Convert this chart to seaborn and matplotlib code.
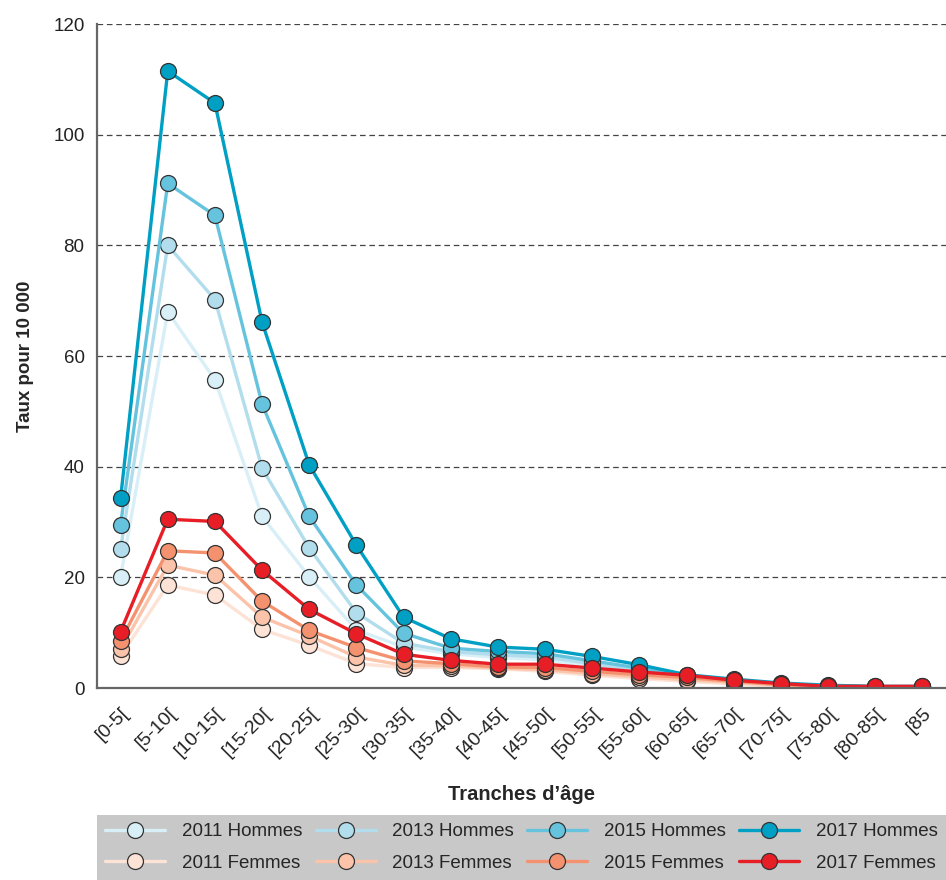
import pandas as pd
import matplotlib.pyplot as plt
import seaborn as sns

sns.set_style("white")
plt.rcParams['font.family'] = ['Liberation Sans', 'DejaVu Sans']

categories = ["[0-5[", "[5-10[", "[10-15[", "[15-20[", "[20-25[", "[25-30[",
              "[30-35[", "[35-40[", "[40-45[", "[45-50[", "[50-55[", "[55-60[",
              "[60-65[", "[65-70[", "[70-75[", "[75-80[", "[80-85[", "[85"]

h2011 = [20.1, 68.0, 55.7, 31.0, 20.1, 10.5, 7.4, 6.2, 5.5, 5.1, 4.0, 2.8, 1.6, 1.0, 0.5, 0.3, 0.2, 0.1]
h2013 = [25.1, 80.0, 70.2, 39.7, 25.3, 13.6, 8.1, 6.6, 6.0, 5.6, 4.4, 3.1, 1.8, 1.1, 0.6, 0.3, 0.2, 0.2]
h2015 = [29.5, 91.2, 85.4, 51.3, 31.0, 18.6, 9.9, 7.2, 6.6, 6.2, 4.9, 3.6, 2.1, 1.3, 0.7, 0.4, 0.2, 0.2]
h2017 = [34.3, 111.5, 105.7, 66.1, 40.3, 25.8, 12.8, 8.9, 7.4, 7.0, 5.7, 4.2, 2.4, 1.6, 0.9, 0.5, 0.3, 0.3]

f2011 = [5.8, 18.6, 16.8, 10.6, 7.7, 4.4, 3.7, 3.7, 3.5, 3.0, 2.3, 1.7, 1.2, 0.7, 0.3, 0.1, 0.1, 0.0]
f2013 = [7.0, 22.2, 20.4, 12.8, 9.4, 5.6, 4.1, 4.0, 3.6, 3.3, 2.6, 2.0, 1.5, 1.0, 0.5, 0.2, 0.1, 0.1]
f2015 = [8.5, 24.8, 24.4, 15.7, 10.4, 7.3, 4.9, 4.4, 3.8, 3.7, 3.0, 2.4, 1.9, 1.2, 0.6, 0.3, 0.2, 0.2]
f2017 = [10.2, 30.5, 30.1, 21.3, 14.2, 9.8, 6.1, 5.0, 4.3, 4.3, 3.6, 2.9, 2.3, 1.4, 0.8, 0.3, 0.3, 0.3]

series = [
    ("2011 Hommes", h2011, "#d8eff7"),
    ("2013 Hommes", h2013, "#b2dded"),
    ("2015 Hommes", h2015, "#66c3de"),
    ("2017 Hommes", h2017, "#009fc4"),
    ("2011 Femmes", f2011, "#fde2d6"),
    ("2013 Femmes", f2013, "#fbc4aa"),
    ("2015 Femmes", f2015, "#f4926f"),
    ("2017 Femmes", f2017, "#e81e27"),
]

fig = plt.figure(figsize=(9.46, 8.8), dpi=100)
ax = fig.add_axes([97 / 946, 192 / 880, 1 - 97 / 946, (688 - 24) / 880])

handles = {}
for name, vals, col in series:
    df = pd.DataFrame({"age": categories, "taux": vals})
    sns.lineplot(data=df, x="age", y="taux", ax=ax, sort=False, color=col,
                 linewidth=2.4, marker="o", markersize=11.5,
                 markerfacecolor=col, markeredgecolor="#333333",
                 markeredgewidth=0.9, label=name)
    handles[name] = ax.get_lines()[-1]

ax.set_ylim(0, 120)
ax.set_xlim(-0.5, 17.32)
ax.set_yticks(range(0, 121, 20))
ax.yaxis.grid(True, color="#444444", linestyle=(0, (4.5, 3)), linewidth=0.9)
ax.set_axisbelow(True)

for s in ["top", "right"]:
    ax.spines[s].set_visible(False)
for s in ["left", "bottom"]:
    ax.spines[s].set_color("#666666")
    ax.spines[s].set_linewidth(1.6)

ax.tick_params(axis="y", which="major", length=5, width=1, color="#444444",
               labelsize=13.5, labelcolor="#222222", pad=4)
ax.set_xticks(range(len(categories)))
ax.set_xticklabels(categories, rotation=45, ha="right", rotation_mode="anchor",
                   fontsize=14, color="#222222")
ax.tick_params(axis="x", which="major", length=0, pad=12)
ax.set_xticks([i - 0.5 for i in range(1, len(categories) + 1)], minor=True)
ax.tick_params(axis="x", which="minor", length=6, width=1, color="#666666")

ax.set_xlabel("Tranches d’âge", fontsize=14.5, fontweight="bold", labelpad=18)
ax.set_ylabel("Taux pour 10 000", fontsize=13.5, fontweight="bold", labelpad=14)

order = ["2011 Hommes", "2011 Femmes", "2013 Hommes", "2013 Femmes",
         "2015 Hommes", "2015 Femmes", "2017 Hommes", "2017 Femmes"]
ax.legend([handles[n] for n in order], order, ncol=4, mode="expand",
          loc="lower left", bbox_to_anchor=(97 / 946, 0, 1 - 97 / 946, 66 / 880),
          bbox_transform=fig.transFigure, fontsize=13.5, frameon=True,
          facecolor="#c8c8c8", edgecolor="none", fancybox=False, framealpha=1,
          handlelength=3.2, handletextpad=0.9, borderaxespad=0, borderpad=0.45,
          labelspacing=0.75, columnspacing=1.0)

plt.savefig("out.png", dpi=100)
